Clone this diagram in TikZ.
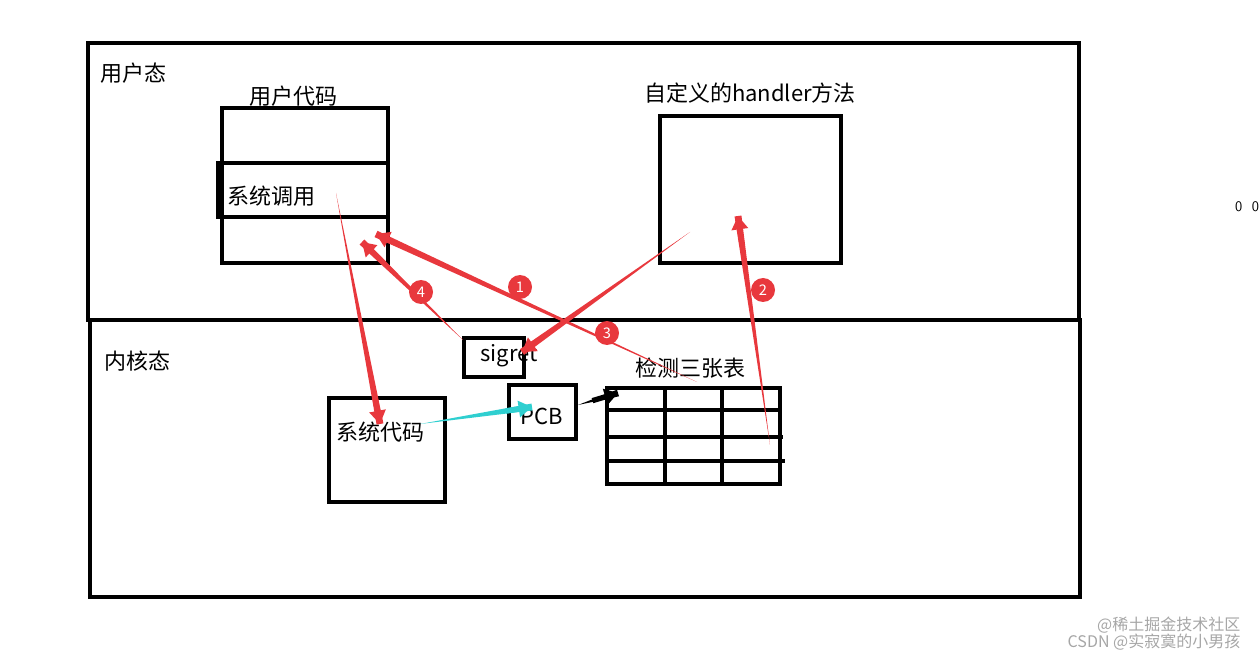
\documentclass[tikz,border=0pt]{standalone}
\usepackage{fontspec}
\setmainfont{Noto Sans CJK SC}
\usetikzlibrary{arrows.meta,calc}
\definecolor{ared}{HTML}{E8383D}
\definecolor{acyan}{HTML}{2FCFD0}
\tikzset{
  box/.style={draw,line width=3pt},
  lbl/.style={font=\fontsize{16.5}{19}\selectfont,inner sep=0pt},
  num/.style={circle,fill=ared,text=white,minimum size=18pt,inner sep=0pt,font=\fontsize{11}{12}\selectfont},
}
\newcommand{\taper}[3][ared]{%
  \fill[#1] (#2) -- ($(#3)!2.6pt!90:(#2)$) -- ($(#3)!2.6pt!-90:(#2)$) -- cycle;
  \draw[draw=#1,line width=4pt,-{Triangle[length=10pt,width=12pt]}] ($(#3)!20pt!(#2)$) -- (#3);}
\begin{document}
\begin{tikzpicture}[x=0.75pt,y=-0.75pt]
\useasboundingbox (0,0) rectangle (1260,659);
% frames
\draw[box] (88,43) rectangle (1079,320);
\draw[box] (90,320) rectangle (1080,597);
\node[lbl,anchor=west] (user) at (100,73) {用户态};
\node[lbl,anchor=west] (kern) at (104,361) {内核态};
% user code
\draw[box] (222,108) rectangle (388,263);
\draw[box] (222,163) -- (388,163);
\draw[box] (222,217) -- (388,217);
\draw[line width=4.5pt] (219,161) -- (219,219);
\node[lbl] (ucode) at (293,96) {用户代码};
\node[lbl,anchor=west] (sc) at (227,196) {系统调用};
% handler
\draw[box] (660,116) rectangle (841,263);
\node[lbl] (hl) at (750,93) {自定义的handler方法};
% sigret
\draw[line width=2.5pt] (464,338) rectangle (524,377);
\node[lbl] (sig) at (509,356) {sigret};
% PCB
\draw[box] (509,385) rectangle (576,439);
\node[lbl] (pcb) at (542,416) {PCB};
% system code
\draw[box] (329,398) rectangle (445,502);
\node[lbl] (scode) at (380,432) {系统代码};
% table
\draw[box] (607,388) rectangle (780,484);
\draw[box] (665,388) -- (665,484);
\draw[box] (722,388) -- (722,484);
\draw[box] (607,410) -- (780,410);
\draw[box] (607,437) -- (783,437);
\draw[box] (607,461) -- (785,461);
\node[lbl] (tbl) at (690,368) {检测三张表};
\node[font=\fontsize{11}{12}\selectfont\sffamily] (oo) at (1247,207) {0\ \ 0};
% coordinates for arrows
\coordinate (a0) at (336,193); \coordinate (b0) at (380,424);
\coordinate (a1) at (697,382); \coordinate (b1) at (376,234);
\coordinate (a2) at (770,445); \coordinate (b2) at (738,216);
\coordinate (a3) at (690,232); \coordinate (b3) at (522,352);
\coordinate (a4) at (463,340); \coordinate (b4) at (362,242);
\taper{a0}{b0}
\taper{a1}{b1}
\taper{a2}{b2}
\taper{a3}{b3}
\taper{a4}{b4}
\taper[acyan]{420,424}{532,407}
\taper[black]{578,405}{618,393}
\node[num] (n1) at (520,287) {1};
\node[num] (n2) at (763,290) {2};
\node[num] (n3) at (607,333) {3};
\node[num] (n4) at (421,292) {4};
% watermark
\node[text=gray!70,font=\fontsize{12}{14}\selectfont,anchor=east] (wm1) at (1245,625) {@稀土掘金技术社区};
\node[text=gray!70,font=\fontsize{12}{14}\selectfont,anchor=east] (wm2) at (1245,642) {CSDN @实寂寞的小男孩};
\end{tikzpicture}
\end{document}
